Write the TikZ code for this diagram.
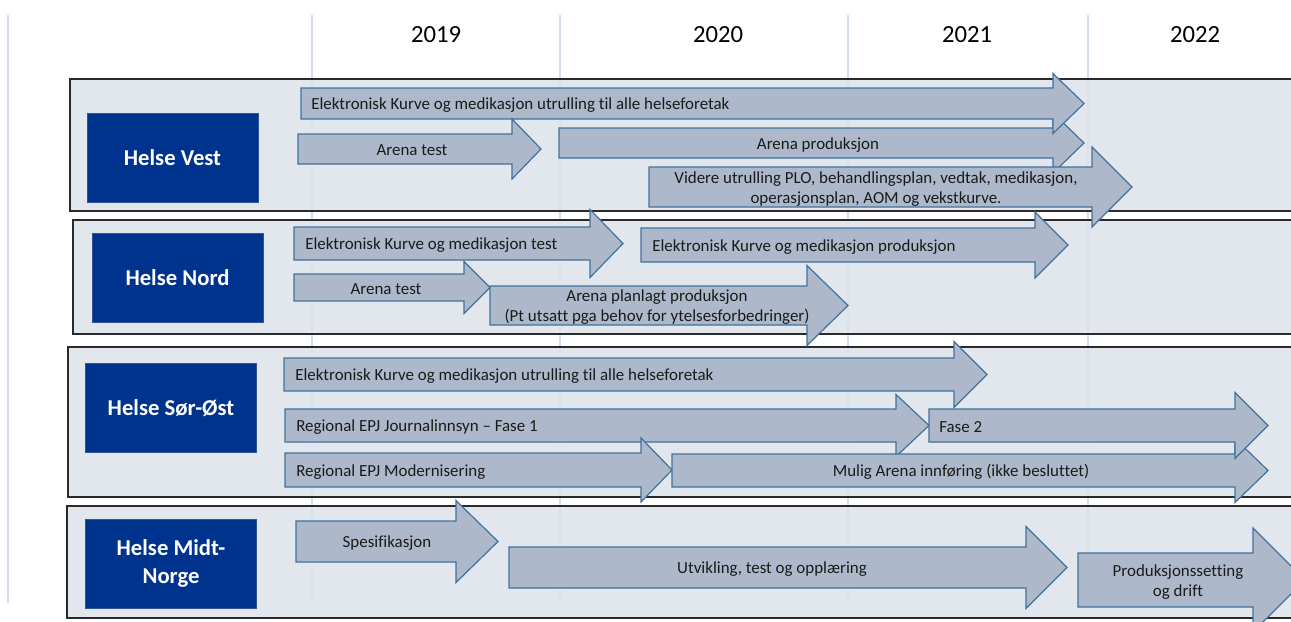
\documentclass[tikz,border=0pt]{standalone}
\usepackage{fontspec}
\setmainfont{Carlito}[RawFeature={-liga}]
\definecolor{framefill}{HTML}{DEE3EC}
\definecolor{frameline}{HTML}{2A2A2A}
\definecolor{gridline}{HTML}{D3DEEE}
\definecolor{pilfill}{HTML}{ADB9CA}
\definecolor{pilline}{HTML}{41719C}
\definecolor{boxblue}{HTML}{00338D}
\definecolor{boxline}{HTML}{2F5597}
\definecolor{txt}{HTML}{1A1A1A}
\newcommand\hpil[6]{%
  \filldraw[pil] (#1,#2) -- (#4,#2) -- (#4,{(#2+#3)/2-#6}) -- (#5,{(#2+#3)/2}) -- (#4,{(#2+#3)/2+#6}) -- (#4,#3) -- (#1,#3) -- cycle;}
\begin{document}
\begin{tikzpicture}[x=0.75pt,y=-0.75pt,
  frame/.style={fill=framefill, fill opacity=0.85, draw=frameline, draw opacity=1, line width=1.3pt},
  grid/.style={draw=gridline, line width=0.8pt},
  namebox/.style={fill=boxblue, draw=boxline, line width=0.6pt, text=white,
    font=\fontsize{17}{21}\selectfont\bfseries, align=center,
    minimum width=128.25pt, minimum height=66.75pt, inner sep=0pt},
  pil/.style={fill=pilfill, draw=pilline, line width=0.9pt, line join=miter},
  pt/.style={font=\fontsize{12.7}{15}\selectfont, text=txt, inner sep=0pt, align=center, yshift=-1.2pt},
  year/.style={font=\fontsize{18.5}{22}\selectfont, text=black, inner sep=0pt}]
\useasboundingbox (0,0) rectangle (1291,621);
\clip (0,0) rectangle (1291,621);
\fill[white] (0,0) rectangle (1291,621);
% grid lines
\coordinate (g0t) at (8,15);    \coordinate (g0b) at (8,603);
\coordinate (g1t) at (312,15);  \coordinate (g1b) at (312,603);
\coordinate (g2t) at (560,15);  \coordinate (g2b) at (560,603);
\coordinate (g3t) at (848,15);  \coordinate (g3b) at (848,603);
\coordinate (g4t) at (1088,15); \coordinate (g4b) at (1088,603);
\draw[grid] (g0t) -- (g0b);
\draw[grid] (g1t) -- (g1b);
\draw[grid] (g2t) -- (g2b);
\draw[grid] (g3t) -- (g3b);
\draw[grid] (g4t) -- (g4b);
% years
\node[year] (y19) at (436,35) {2019};
\node[year] (y20) at (718,35) {2020};
\node[year] (y21) at (967,35) {2021};
\node[year] (y22) at (1195,35) {2022};
% frames
\draw[frame] (70,79) rectangle (1310,211);
\draw[frame] (73,220) rectangle (1310,334);
\draw[frame] (68,347) rectangle (1310,497);
\draw[frame] (67,506) rectangle (1310,618);
% name boxes
\node[namebox] (vest) at (172.5,157.5) {Helse Vest};
\node[namebox] (nord) at (177.5,277.5) {Helse Nord};
\node[namebox] (sorost) at (171,408) {Helse Sør-Øst};
\node[namebox] (midt) at (171,563.5) {Helse Midt-\\[0pt]Norge};
% Row 1 - Helse Vest
\hpil{559}{128}{158}{1053}{1084}{30}
\node[pt] (a3) at (818,143) {Arena produksjon};
\hpil{301}{88}{119}{1053}{1084}{30}
\node[pt, anchor=west] (a1) at (311,103.5) {Elektronisk Kurve og medikasjon utrulling til alle helseforetak};
\hpil{298}{134}{164}{512}{541}{30}
\node[pt] (a2) at (412,149) {Arena test};
\hpil{649}{167}{207}{1092}{1132}{40}
\node[pt] (a4) at (876,187.5) {Videre utrulling PLO, behandlingsplan, vedtak, medikasjon,\\operasjonsplan, AOM og vekstkurve.};
% Row 2 - Helse Nord
\hpil{294}{227}{260}{590}{623}{34}
\node[pt, anchor=west] (b1) at (305,243.5) {Elektronisk Kurve og medikasjon test};
\hpil{641}{228}{262}{1035}{1068}{33}
\node[pt, anchor=west] (b2) at (652,245) {Elektronisk Kurve og medikasjon produksjon};
\hpil{294}{274}{301}{464}{490}{26}
\node[pt] (b3) at (386,287.5) {Arena test};
\hpil{490}{286}{325}{807}{848}{40}
\node[pt] (b4) at (657,305.5) {Arena planlagt produksjon\\(Pt utsatt pga behov for ytelsesforbedringer)};
% Row 3 - Helse Sør-Øst
\hpil{284}{358}{391}{954}{987}{33}
\node[pt, anchor=west] (c1) at (295,374.5) {Elektronisk Kurve og medikasjon utrulling til alle helseforetak};
\hpil{285}{409}{442}{896}{929}{31}
\node[pt, anchor=west] (c2) at (296,425.5) {Regional EPJ Journalinnsyn – Fase 1};
\hpil{285}{453}{487}{641}{672}{32}
\node[pt, anchor=west] (c4) at (296,470) {Regional EPJ Modernisering};
\hpil{672}{454}{487}{1235}{1268}{32}
\node[pt] (c5) at (961,470.5) {Mulig Arena innføring (ikke besluttet)};
\hpil{929}{409}{442}{1235}{1268}{33}
\node[pt, anchor=west] (c3) at (939,425.5) {Fase 2};
% Row 4 - Helse Midt-Norge
\hpil{296}{521}{562}{456}{498}{41}
\node[pt] (d1) at (387,541.5) {Spesifikasjon};
\hpil{509}{547}{588}{1026}{1067}{41}
\node[pt] (d2) at (772,567.5) {Utvikling, test og opplæring};
\hpil{1078}{553}{607}{1253}{1305}{52}
\node[pt] (d3) at (1178,580) {Produksjonssetting\\og drift};
\end{tikzpicture}
\end{document}
